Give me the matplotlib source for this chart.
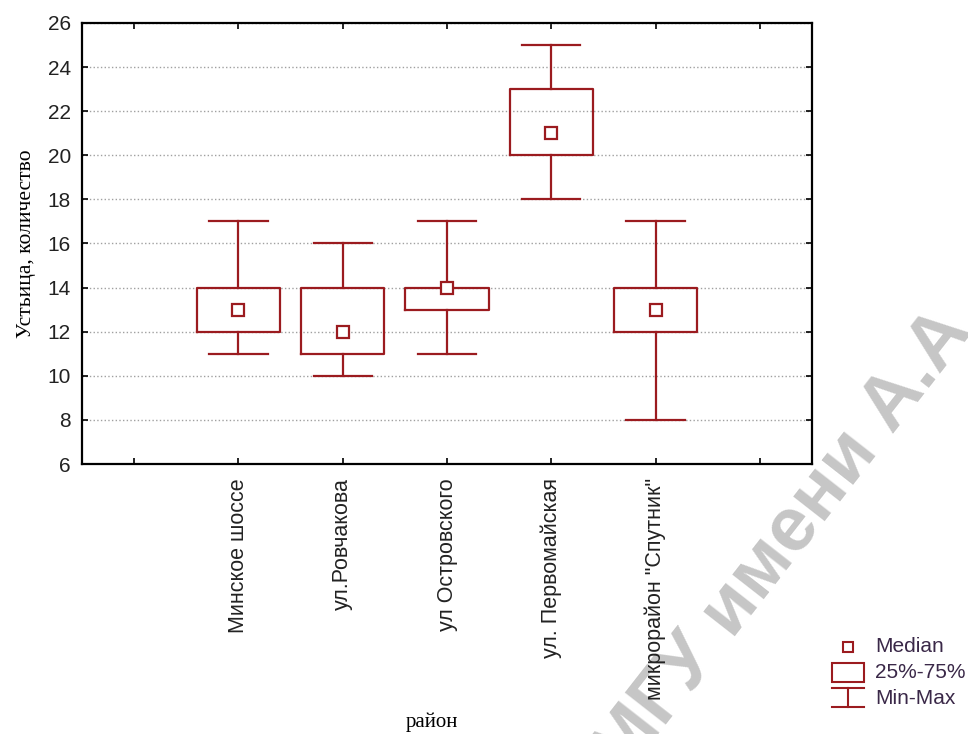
import matplotlib
matplotlib.use("Agg")
import matplotlib.pyplot as plt
from matplotlib.patches import Rectangle
from matplotlib.lines import Line2D

# Данные (чтение с рисунка)
districts = ["Минское шоссе", "ул.Ровчакова", "ул Островского",
             "ул. Первомайская", 'микрорайон "Спутник"']
mins = [11, 10, 11, 18, 8]
q1 = [12, 11, 13, 20, 12]
medians = [13, 12, 14, 21, 13]
q3 = [14, 14, 14, 23, 14]
maxs = [17, 16, 17, 25, 17]
yticks = [6, 8, 10, 12, 14, 16, 18, 20, 22, 24, 26]

RED = "#9b1b1f"
SANS = ["Liberation Sans", "DejaVu Sans"]
SERIF = ["Liberation Serif", "DejaVu Serif"]

W, H = 968, 734
fig = plt.figure(figsize=(W / 100, H / 100), dpi=100)
ax = fig.add_axes([82 / W, 1 - 464 / H, 730 / W, 441 / H])

positions = list(range(1, len(districts) + 1))
stats = []
for i, name in enumerate(districts):
    stats.append({"label": name, "med": medians[i], "q1": q1[i], "q3": q3[i],
                  "whislo": mins[i], "whishi": maxs[i], "fliers": []})

ax.bxp(stats, positions=positions, widths=0.8, capwidths=0.56,
       showfliers=False, manage_ticks=False,
       boxprops=dict(color=RED, linewidth=1.6),
       whiskerprops=dict(color=RED, linewidth=1.6),
       capprops=dict(color=RED, linewidth=1.6),
       medianprops=dict(linestyle="none"))
ax.plot(positions, medians, "s", ms=8, mfc="white", mec=RED, mew=1.6, zorder=5)

ax.set_xlim(-0.5, 6.5)
ax.set_ylim(6, 26)
ax.set_yticks(yticks)
ax.set_xticks(range(0, 7))
ax.set_xticklabels([""] + districts + [""], rotation=90, va="top",
                   family=SANS, fontsize=15.5, color="#222222")
for lbl in ax.get_yticklabels():
    lbl.set_family(SANS)
ax.tick_params(axis="y", labelsize=15, labelcolor="#222222")
ax.tick_params(direction="in", length=4, width=1.2, top=True, right=True, pad=8)
ax.tick_params(axis="x", pad=10)
ax.grid(axis="y", linestyle=":", color="#a0a0a0", linewidth=1)
ax.set_axisbelow(True)
for s in ax.spines.values():
    s.set_linewidth(1.6)

ax.set_ylabel("Устьица, количество", family=SERIF, fontsize=15.5, labelpad=8)
fig.text(432 / W, 1 - 722 / H, "район", family=SERIF, fontsize=15,
         ha="center", va="center")

# водяной знак
fig.text(0.645, -0.06, "МГУ имени А.А", rotation=52, rotation_mode="anchor",
         ha="left", va="baseline", fontsize=55, fontweight="bold",
         family=SANS, color="#c6c6c6", zorder=-1)

# легенда
lax = fig.add_axes([0, 0, 1, 1])
lax.set_xlim(0, W)
lax.set_ylim(H, 0)
lax.axis("off")
lax.plot([848], [647], "s", ms=7, mfc="white", mec=RED, mew=1.5)
lax.add_patch(Rectangle((832, 663), 32, 19, fill=False, ec=RED, lw=1.5))
lax.add_line(Line2D([832, 864], [688, 688], color=RED, lw=1.5))
lax.add_line(Line2D([848, 848], [688, 707], color=RED, lw=1.5))
lax.add_line(Line2D([832, 864], [707, 707], color=RED, lw=1.5))
for ty, txt in [(647, "Median"), (672, "25%-75%"), (698, "Min-Max")]:
    lax.text(875, ty, txt, family=SANS, fontsize=15, color="#3a2848",
             va="center", ha="left")

fig.savefig("out.png", dpi=100)
